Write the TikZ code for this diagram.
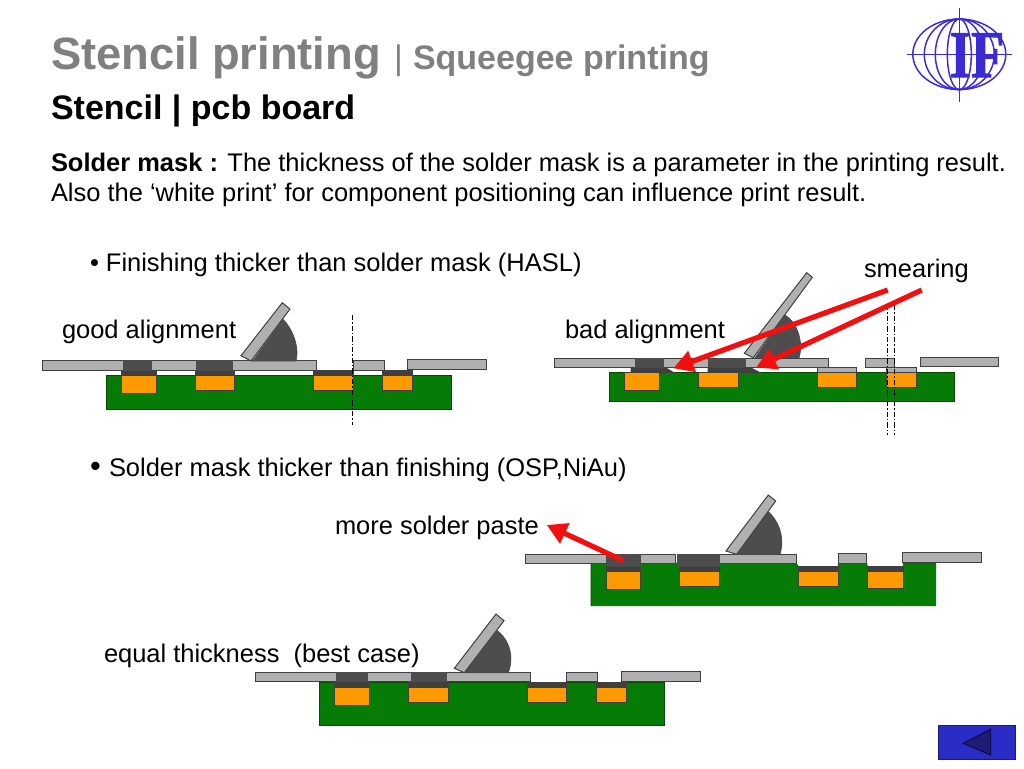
\documentclass[tikz,border=0pt]{standalone}
\usepackage{fontspec}
\usetikzlibrary{arrows.meta}
\setmainfont{Liberation Sans}
\newfontfamily\logoserif[FakeBold=1.5]{Liberation Serif}
\definecolor{pcbgreen}{HTML}{067C06}
\definecolor{padorange}{HTML}{FF9900}
\definecolor{stencilgray}{HTML}{B0B0B0}
\definecolor{pastedark}{HTML}{4D4D4D}
\definecolor{maskdark}{HTML}{3F3F3F}
\definecolor{titlegray}{HTML}{808080}
\definecolor{arrowred}{HTML}{F20F0F}
\definecolor{logoblue}{HTML}{3A2BD2}
\definecolor{btnblue}{HTML}{2B2BC6}
\definecolor{btndark}{HTML}{1C1C78}
\tikzset{
 part/.style={draw=black!75,line width=.75pt},
 board/.style={draw=pcbgreen!60!black,line width=.6pt,fill=pcbgreen},
 pad/.style={part,fill=padorange},
 mask/.style={part,fill=maskdark},
 lightmask/.style={part,fill=stencilgray},
 stencil/.style={part,fill=stencilgray},
 paste/.style={draw=black!70,line width=.5pt,fill=pastedark},
 blade/.style={part,fill=stencilgray},
 cut/.style={draw=black,line width=.6pt,dash pattern=on 4pt off 1.5pt on 1pt off 1.5pt},
 redarrow/.style={draw=arrowred,line width=3.9pt,-{Triangle[length=15pt,width=16pt]}},
 txt/.style={anchor=base west,inner sep=0pt,outer sep=0pt,font=\fontsize{19.1}{23}\selectfont},
 logoline/.style={draw=logoblue,line width=1.1pt},
}
\newcommand{\rc}[5]{\draw[#1] (#2,#3) rectangle (#4,#5);}
\begin{document}
\begin{tikzpicture}[x=.75pt,y=-.75pt]
\useasboundingbox (0,0) rectangle (1024,768);
\fill[white] (0,0) rectangle (1024,768);

% ---- texts
\node[txt,anchor=base west,text=titlegray,font=\fontsize{34}{40}\selectfont\bfseries] (title) at (51,69) {Stencil printing};
\node[txt,text=titlegray,font=\fontsize{25.5}{30}\selectfont] (titlebar) at (394,69.5) {|};
\node[txt,text=titlegray,font=\fontsize{25.5}{30}\selectfont\bfseries] (subtitle) at (413,69.5) {Squeegee printing};
\node[txt,font=\fontsize{25.5}{30}\selectfont\bfseries] (head) at (51,119) {Stencil | pcb board};
\node[txt] (l1) at (51,171) {\textbf{Solder mask :} The thickness of the solder mask is a parameter in the printing result.};
\node[txt] (l2) at (51,201) {Also the ‘white print’ for component positioning can influence print result.};
\node[txt] (b1) at (90,271) {• Finishing thicker than solder mask (HASL)};
\node[txt] (good) at (62,338) {good alignment};
\node[txt] (bad) at (565,338) {bad alignment};
\node[txt] (smear) at (864,277) {smearing};
\node[txt,font=\fontsize{23}{23}\selectfont] (b2dot) at (90,476) {•};
\node[txt] (b2) at (109,476) {Solder mask thicker than finishing (OSP,NiAu)};
\node[txt] (more) at (335,534) {more solder paste};
\node[txt] (equal) at (104,662) {equal thickness\ \ (best case)};

% ---- diagram A: good alignment
\rc{board}{106}{375}{451}{409.5}
\rc{pad}{121.5}{375}{156}{393.3}
\rc{pad}{195}{375}{234.5}{390}
\rc{pad}{313.7}{375}{353}{390}
\rc{pad}{382.7}{375}{412.5}{390}
\rc{mask}{121.5}{370}{156}{375}
\rc{mask}{195}{370}{234.5}{375}
\rc{mask}{313.7}{370}{353}{375}
\rc{mask}{382.7}{370}{412.5}{375}
\rc{stencil}{42}{360.7}{316.7}{370}
\rc{stencil}{353.5}{360.7}{384}{370}
\rc{stencil}{407.7}{359.5}{486.5}{369}
\rc{paste}{123.3}{360.7}{151.7}{370}
\rc{paste}{196.5}{360.7}{232}{370}
\draw[paste] (252.7,361) -- (283,319.3) .. controls (291,327) and (300,345) .. (296,361) -- cycle;
\draw[blade] (282.3,302.7) -- (290,309) -- (251,361) -- (241,355.7) -- cycle;
\coordinate (cutAtop) at (352.5,315);
\coordinate (cutAbot) at (352.5,425);
\draw[cut] (cutAtop) -- (cutAbot);

% ---- diagram B: bad alignment
\rc{board}{609.3}{372.3}{954.3}{401}
\rc{pad}{624.7}{372.3}{659}{390.7}
\rc{pad}{698.7}{372.3}{738.3}{387.7}
\rc{pad}{817.3}{372.3}{856.7}{387.7}
\rc{pad}{886.7}{372.3}{916}{387.7}
\draw[mask,draw=maskdark] (631,367.5) -- (665,367.5) -- (673,372.3) -- (631,372.3) -- cycle;
\draw[mask,draw=maskdark] (708,367.5) -- (750,367.5) -- (759,372.3) -- (708,372.3) -- cycle;
\rc{lightmask}{817.3}{367.7}{856.7}{372.3}
\rc{lightmask}{886.7}{367.7}{916}{372.3}
\rc{stencil}{554.3}{358.3}{828.7}{367.7}
\rc{stencil}{865.7}{358.3}{894.3}{367.7}
\rc{stencil}{920}{357}{998.3}{366.7}
\rc{paste}{635}{358.3}{663.3}{367.7}
\rc{paste}{708.3}{358.3}{745}{367.7}
\draw[paste] (755,357.9) -- (785,315) .. controls (797,322) and (804,342) .. (799,357.9) -- cycle;
\draw[blade] (806.7,272.7) -- (812.3,277.3) -- (753.3,357.7) -- (744.3,353.3) -- cycle;
\coordinate (cutBatop) at (887.3,305);
\coordinate (cutBabot) at (887.3,435);
\coordinate (cutBbtop) at (894.3,305);
\coordinate (cutBbbot) at (894.3,435);
\draw[cut] (cutBatop) -- (cutBabot);
\draw[cut] (cutBbtop) -- (cutBbbot);
\coordinate (smearAfrom) at (887.7,290);
\coordinate (smearAto) at (673.3,368.3);
\coordinate (smearBfrom) at (921.7,290);
\coordinate (smearBto) at (756,367.5);
\draw[redarrow] (smearAfrom) -- (smearAto);
\draw[redarrow] (smearBfrom) -- (smearBto);

% ---- diagram C: solder mask thicker
\draw[board] (591,563) -- (796,563) -- (798.3,566.7) -- (838.3,566.7) -- (838.3,563) -- (866.7,563)
  -- (867.3,566.7) -- (903.3,566.7) -- (903.3,563) -- (935.7,563) -- (935.7,605.7) -- (591,605.7) -- cycle;
\rc{pad}{606}{571.7}{640.3}{589.3}
\rc{pad}{679.3}{571.7}{719.3}{586.5}
\rc{pad}{798.3}{571.7}{838.3}{586.5}
\rc{pad}{867.3}{571.7}{903.3}{588.3}
\rc{mask}{606}{566.7}{640.3}{571.7}
\rc{mask}{679.3}{566.7}{719.3}{571.7}
\rc{mask}{798.3}{566.7}{838.3}{571.7}
\rc{mask}{867.3}{566.7}{903.3}{571.7}
\rc{stencil}{525.3}{554}{675.7}{563}
\rc{stencil}{677.3}{554}{796}{563}
\rc{stencil}{838.3}{553.3}{866.7}{563}
\rc{stencil}{902.7}{552.3}{981.7}{562.7}
\rc{paste}{606.7}{554}{640.3}{566.7}
\rc{paste}{677.3}{554}{719.3}{566.7}
\draw[paste] (737.3,554.3) -- (768.3,511.7) .. controls (776,518) and (786,535) .. (780,554.3) -- cycle;
\draw[blade] (768.3,495) -- (775.7,501) -- (736.7,554.3) -- (726,551) -- cycle;
\coordinate (moreFrom) at (623.3,560.7);
\coordinate (moreTo) at (546.7,525);
\draw[redarrow] (moreFrom) -- (moreTo);

% ---- diagram D: equal thickness
\rc{board}{319.3}{682}{664.3}{725.3}
\rc{pad}{334.7}{687}{369}{705}
\rc{pad}{408.7}{687}{448}{702.3}
\rc{pad}{527.3}{687}{566.7}{702.3}
\rc{pad}{596}{687}{626}{702.3}
\rc{mask}{334.7}{682}{369}{687}
\rc{mask}{408.7}{682}{448}{687}
\rc{mask}{527.3}{682}{566.7}{687}
\rc{mask}{596}{682}{626}{687}
\rc{stencil}{255.7}{672.3}{530}{681.7}
\rc{stencil}{566.7}{672.3}{597.3}{681.7}
\rc{stencil}{621.3}{671}{700}{681}
\rc{paste}{336.3}{672.3}{367}{681.7}
\rc{paste}{411}{672.3}{446.7}{681.7}
\draw[paste] (465,672.7) -- (497.3,630.7) .. controls (505,636) and (516,652) .. (508.3,672.7) -- cycle;
\draw[blade] (496,614) -- (504,620.7) -- (464.3,672.7) -- (454.3,668.3) -- cycle;

% ---- logo
\begin{scope}[logoline]
\draw (959.3,54.3) ellipse [x radius=46.5,y radius=35.3];
\draw (959.3,54.3) ellipse [x radius=35,y radius=35.3];
\draw (959.3,54.3) ellipse [x radius=24,y radius=35.3];
\draw (959.3,54.3) ellipse [x radius=12,y radius=35.3];
\coordinate (logoT) at (959.3,8);
\coordinate (logoB) at (959.3,101.5);
\coordinate (logoL) at (906.7,54.3);
\coordinate (logoR) at (1012,54.3);
\draw (logoT) -- (logoB);
\draw (logoL) -- (logoR);
\end{scope}
\node[anchor=base west,inner sep=0pt,text=logoblue,font=\fontsize{50}{50}\selectfont\logoserif\bfseries,xscale=.82] (logo) at (949.5,77) {IF};

% ---- back button
\rc{fill=btnblue,draw=btndark,line width=.75pt}{938.3}{725}{1015.7}{759.3}
\draw[fill=btndark,draw=black!70!btndark,line width=.6pt] (963.3,743.3) -- (990.7,729) -- (990.7,755) -- cycle;
\end{tikzpicture}
\end{document}
